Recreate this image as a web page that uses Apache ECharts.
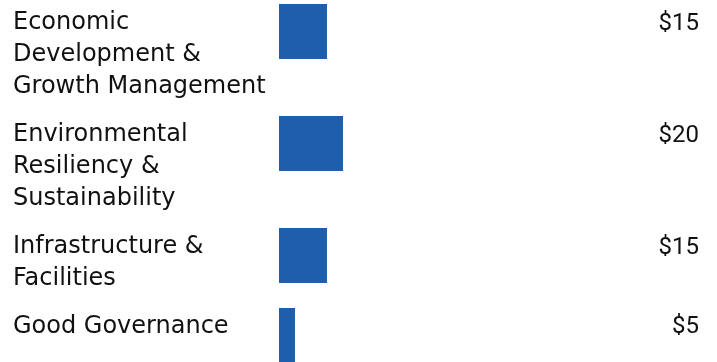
<!DOCTYPE html>
<html><head><meta charset="utf-8">
<script src="https://cdn.jsdelivr.net/npm/echarts@6/dist/echarts.min.js"></script>
<style>html,body{margin:0;padding:0;background:#fff}#c{width:717px;height:362px}</style>
</head><body><div id="c"></div>
<script>
const categories = ["Economic\nDevelopment &\nGrowth Management", "Environmental\nResiliency &\nSustainability", "Infrastructure &\nFacilities", "Good Governance"];
const values = [15, 20, 15, 5];
const valueLabels = values.map(v => '$' + v);

const FONT = 'DejaVu Sans';
const VFONT = 'Roboto';
const FS = 24;
const VFS = 24;
const LH = 32;
const COLOR = '#1e5eab';
const TXT = '#111111';
const chart = echarts.init(document.getElementById('c'), null, {renderer: 'canvas'});
const grids = [], xAxes = [], yAxes = [], series = [];
let rowTop = 4;
categories.forEach((name, i) => {
  const lines = name.split('\n').length;
  grids.push({left: 279, width: 320, top: rowTop, height: 55});
  xAxes.push({type: 'value', gridIndex: i, min: 0, max: 100, show: false});
  yAxes.push({type: 'category', gridIndex: i, data: [name], show: false});
  yAxes.push({type: 'category', gridIndex: i, data: [valueLabels[i]], position: 'right',
    axisLine: {show: false}, axisTick: {show: false}, splitLine: {show: false},
    axisLabel: {show: true, margin: 100, align: 'right', verticalAlign: 'bottom',
      lineHeight: 16, fontFamily: VFONT, fontSize: VFS, color: TXT}});
  series.push({type: 'bar', xAxisIndex: i, yAxisIndex: 2 * i, data: [values[i]], barWidth: 55,
    itemStyle: {color: COLOR}, silent: true, animation: false,
    label: {show: true, position: [-266, 3], align: 'left', verticalAlign: 'top',
      formatter: () => name, lineHeight: LH, fontFamily: FONT, fontSize: FS, color: TXT}});
  rowTop += 16 + LH * lines;
});
chart.setOption({animation: false, grid: grids, xAxis: xAxes, yAxis: yAxes, series: series});
</script></body></html>
